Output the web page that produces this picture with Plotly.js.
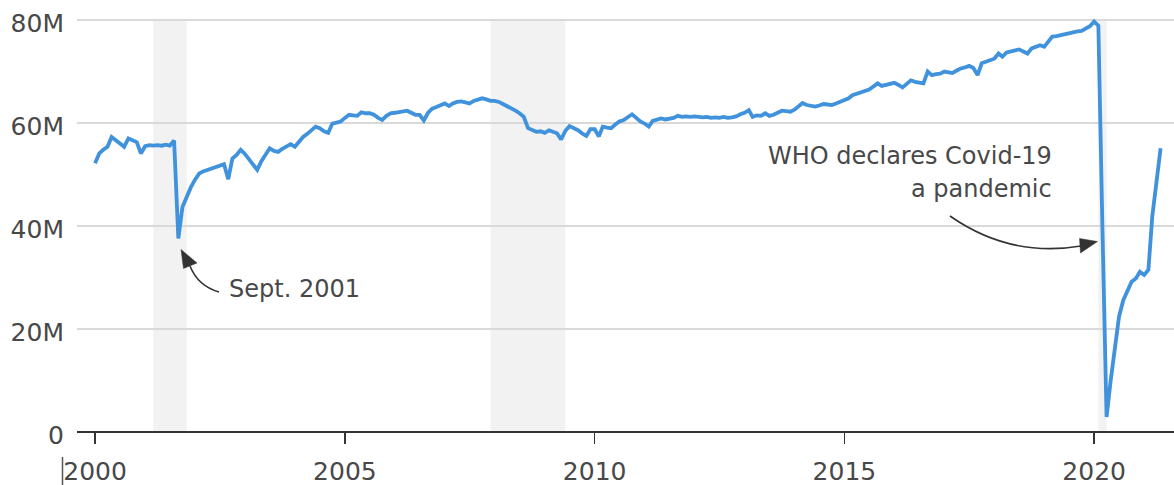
<!DOCTYPE html>
<html><head><meta charset="utf-8">
<script src="https://cdn.plot.ly/plotly-3.0.1.min.js"></script>
<style>html,body{margin:0;padding:0;background:#fff}#chart{width:1174px;height:485px}</style>
</head><body><div id="chart"></div>
<script>
// Monthly passengers, millions (Jan..Dec)
const p2000 = [52.2,54.1,54.8,55.4,57.3,56.6,56.0,55.4,57.0,56.6,56.3,54.1];
const p2001 = [55.5,55.7,55.6,55.7,55.6,55.8,55.6,56.6,37.6,43.7,45.8,47.5];
const p2002 = [49.0,50.2,50.6,50.9,51.2,51.4,51.8,52.0,49.1,53.1,53.8,54.8];
const p2003 = [54.0,53.0,52.0,50.9,52.6,54.0,55.1,54.6,54.4,55.0,55.5,55.9];
const p2004 = [55.4,56.3,57.3,57.9,58.6,59.3,59.0,58.4,58.1,59.9,60.1,60.3];
const p2005 = [61.0,61.6,61.5,61.4,62.1,61.9,61.9,61.6,61.0,60.6,61.4,61.9];
const p2006 = [62.0,62.1,62.3,62.4,62.0,61.6,61.6,60.5,62.0,62.8,63.1,63.5];
const p2007 = [63.8,63.3,63.8,64.1,64.2,64.0,63.8,64.3,64.6,64.8,64.6,64.3];
const p2008 = [64.3,64.1,63.7,63.3,62.9,62.4,61.9,61.2,59.0,58.6,58.3,58.4];
const p2009 = [58.1,58.6,58.4,58.0,56.8,58.5,59.4,59.0,58.6,58.0,57.5,58.8];
const p2010 = [58.8,57.4,59.3,59.1,59.0,59.7,60.3,60.6,61.2,61.7,61.0,60.3];
const p2011 = [59.9,59.3,60.4,60.6,60.9,60.7,60.9,61.0,61.4,61.2,61.3,61.2];
const p2012 = [61.3,61.2,61.1,61.2,61.0,61.1,61.0,61.2,61.0,61.1,61.3,61.7];
const p2013 = [62.0,62.5,61.2,61.5,61.4,61.9,61.4,61.6,62.0,62.4,62.3,62.2];
const p2014 = [62.6,63.3,63.9,63.5,63.4,63.2,63.4,63.7,63.6,63.5,63.8,64.1];
const p2015 = [64.4,64.8,65.4,65.7,65.8,66.1,66.5,67.1,67.7,67.2,67.4,67.7];
const p2016 = [67.8,67.4,66.9,67.6,68.3,68.0,67.8,67.7,70.0,69.3,69.5,69.6];
const p2017 = [70.0,69.9,69.7,70.2,70.6,70.8,71.1,70.7,69.3,71.6,71.9,72.3];
const p2018 = [72.5,73.5,72.9,73.7,73.9,74.1,74.3,73.9,73.5,74.5,74.8,75.1];
const p2019 = [74.8,76.0,76.8,76.9,77.1,77.3,77.5,77.7,77.8,77.9,78.4,78.8];
const p2020 = [79.7,78.9,40.5,2.9,10.0,16.9,22.4,25.6,27.6,29.2,29.8,31.1];
const p2021 = [30.5,31.5,41.8,48.3,55.1];
const firstYear = 2000;
const yearSeries = [p2000,p2001,p2002,p2003,p2004,p2005,p2006,p2007,p2008,p2009,p2010,
  p2011,p2012,p2013,p2014,p2015,p2016,p2017,p2018,p2019,p2020,p2021];

// Recession periods (shaded)
const recessionStart = ['2001-03-01','2007-12-01','2020-02-01'];
const recessionEnd   = ['2001-11-01','2009-06-01','2020-04-01'];

// Axis ticks
const yTickVals = [0,20,40,60,80];
const yTickText = ['0','20M','40M','60M','80M'];

const x = [], y = [];
yearSeries.forEach((arr,i)=>arr.forEach((v,m)=>{
  x.push((firstYear+i)+'-'+String(m+1).padStart(2,'0')+'-01'); y.push(v);
}));

// layout geometry helpers (pixel -> paper)
const W=1174,H=485,ML=77,MR=0,MT=18,MB=53;
const PW=W-ML-MR, PH=H-MT-MB;
const px = v => (v-ML)/PW;
const py = v => (H-MB-v)/PH;

const ink='#333333', txt='#484848';
const fam='DejaVu Sans, sans-serif';

const shapes = recessionStart.map((s,i)=>({
  type:'rect', xref:'x', yref:'y', x0:s, x1:recessionEnd[i], y0:0, y1:80,
  fillcolor:'#f2f2f2', line:{width:0}, layer:'below'
}));
function pathQ(a,c,b){return `M ${px(a[0])} ${py(a[1])} Q ${px(c[0])} ${py(c[1])} ${px(b[0])} ${py(b[1])}`;}
function tri(a,b,c){return `M ${px(a[0])} ${py(a[1])} L ${px(b[0])} ${py(b[1])} L ${px(c[0])} ${py(c[1])} Z`;}
shapes.push({type:'path', xref:'paper', yref:'paper', path:pathQ([219,292],[198,286],[190,266]), line:{color:ink,width:1.6}});
shapes.push({type:'path', xref:'paper', yref:'paper', path:tri([181,249.5],[183.5,268.5],[197,263]), fillcolor:ink, line:{color:ink,width:0.5}});
shapes.push({type:'path', xref:'paper', yref:'paper', path:pathQ([950,216],[1010,258],[1081,246]), line:{color:ink,width:1.6}});
shapes.push({type:'path', xref:'paper', yref:'paper', path:tri([1097.5,241.5],[1079.5,238.5],[1080.5,253]), fillcolor:ink, line:{color:ink,width:0.5}});
// small vertical mark left of first x label
shapes.push({type:'line', xref:'paper', yref:'paper', x0:px(62.5), x1:px(62.5), y0:py(457), y1:py(485), line:{color:'#555',width:1.5}});

const annFont = {family:fam,size:24,color:txt};
const annotations = [
  {text:'Sept. 2001', xref:'paper', yref:'paper', x:px(228), y:py(289), xanchor:'left', yanchor:'middle', showarrow:false, font:annFont, borderpad:0},
  {text:'WHO declares Covid-19', xref:'paper', yref:'paper', x:px(1053), y:py(156), xanchor:'right', yanchor:'middle', showarrow:false, font:annFont, borderpad:0},
  {text:'a pandemic', xref:'paper', yref:'paper', x:px(1053), y:py(189), xanchor:'right', yanchor:'middle', showarrow:false, font:annFont, borderpad:0}
];

const trace = {x:x, y:y, type:'scatter', mode:'lines', line:{color:'#3f92db', width:3.8}, hoverinfo:'skip'};

const layout = {
  width:W, height:H, margin:{l:ML,r:MR,t:MT,b:MB,pad:0},
  paper_bgcolor:'#ffffff', plot_bgcolor:'#ffffff', showlegend:false,
  font:{family:fam, color:txt, size:25},
  xaxis:{type:'date', range:['1999-08-22','2021-08-07'], tick0:'2000-01-01', dtick:'M60', tickformat:'%Y',
    ticks:'outside', ticklen:11, tickwidth:1.5, tickcolor:ink, showgrid:false, zeroline:false, showline:false,
    ticklabelstandoff:6, tickfont:{family:fam,size:25,color:txt}, fixedrange:true},
  yaxis:{range:[0,80.4], tickvals:yTickVals, ticktext:yTickText, showgrid:true, gridcolor:'#d9d9d9', gridwidth:1.2,
    zeroline:true, zerolinecolor:ink, zerolinewidth:1.8, showline:false, ticks:'', ticklabelstandoff:12,
    ticklabelshift:3, tickfont:{family:fam,size:25,color:txt}, fixedrange:true},
  shapes:shapes, annotations:annotations, hovermode:false
};
Plotly.newPlot('chart',[trace],layout,{displayModeBar:false,staticPlot:true});
</script></body></html>
